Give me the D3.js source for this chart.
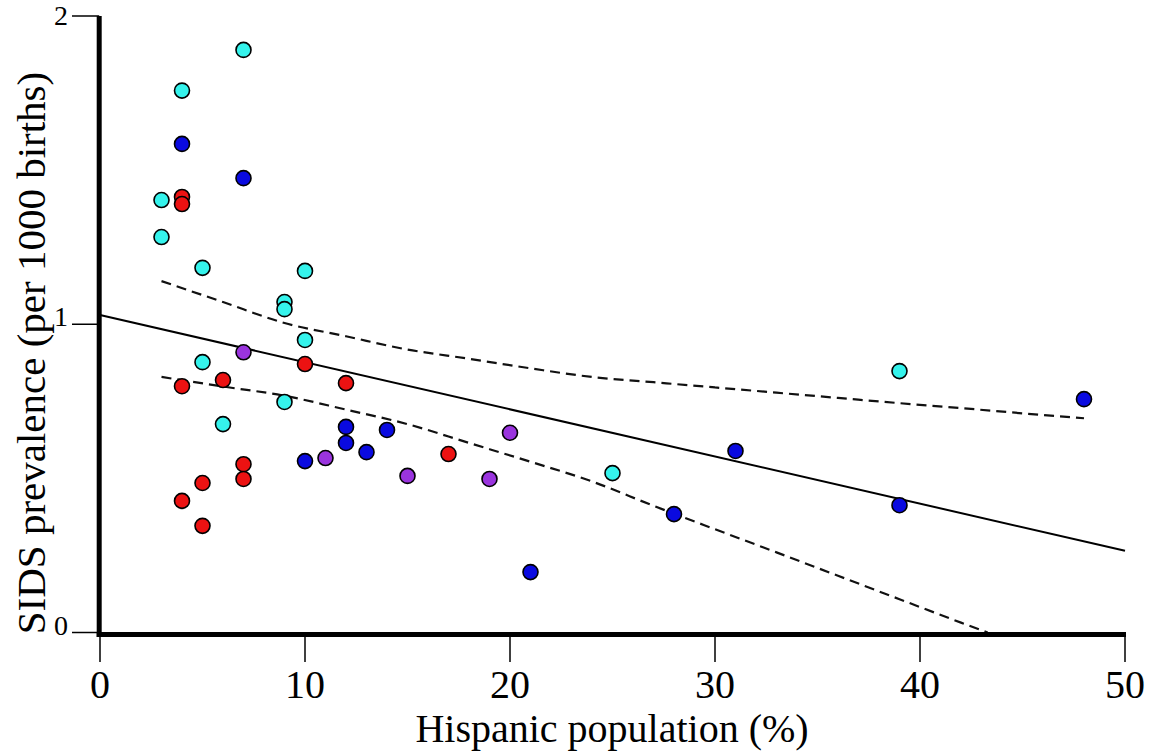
<!DOCTYPE html>
<html>
<head>
<meta charset="utf-8">
<script src="https://cdn.jsdelivr.net/npm/d3@7"></script>
<style>
  html, body { margin: 0; padding: 0; background: #fff; }
  svg { display: block; }
  text { font-family: "Liberation Serif", "Times New Roman", serif; fill: #000; }
</style>
</head>
<body>
<script>
// ---- data ----
const cyanX = [7, 4, 3, 3, 5, 10, 9, 9, 10, 5, 9, 6, 25, 39];
const cyanY = [1.89, 1.758, 1.403, 1.283, 1.183, 1.173, 1.072, 1.049, 0.949, 0.877, 0.748, 0.676, 0.517, 0.848];

const blueX = [4, 7, 12, 12, 14, 13, 10, 21, 28, 31, 39, 48];
const blueY = [1.585, 1.474, 0.667, 0.615, 0.657, 0.585, 0.556, 0.196, 0.384, 0.589, 0.413, 0.757];

const redX = [4, 4, 4, 6, 10, 12, 7, 7, 5, 4, 5, 17];
const redY = [1.413, 1.39, 0.799, 0.819, 0.871, 0.809, 0.546, 0.498, 0.485, 0.427, 0.346, 0.579];

const purpleX = [7, 11, 15, 19, 20];
const purpleY = [0.909, 0.566, 0.508, 0.498, 0.648];

const fitX = [0, 50];
const fitY = [1.03, 0.265];

const upperX = [3, 6, 9, 12, 15, 18, 21, 24, 27, 30, 33, 36, 39, 42, 45, 48];
const upperY = [1.14, 1.072, 1.004, 0.961, 0.918, 0.888, 0.857, 0.829, 0.812, 0.795, 0.778, 0.761, 0.744, 0.728, 0.711, 0.695];

const lowerX = [3, 6, 9, 12, 15, 18, 21, 24, 27, 30, 33, 36, 39, 42, 43.3];
const lowerY = [0.829, 0.798, 0.768, 0.723, 0.676, 0.615, 0.554, 0.49, 0.411, 0.335, 0.26, 0.184, 0.108, 0.032, 0];

const xTicks = [0, 10, 20, 30, 40, 50];
const yTicks = [0, 1, 2];
const xTitle = "Hispanic population (%)";
const yTitle = "SIDS prevalence (per 1000 births)";

const groups = [
  { xs: cyanX, ys: cyanY, color: "#35f3ec" },
  { xs: blueX, ys: blueY, color: "#0a0ae0" },
  { xs: redX, ys: redY, color: "#ec1212" },
  { xs: purpleX, ys: purpleY, color: "#9a34de" }
];

// ---- layout ----
const W = 1156, H = 751;
const x = d3.scaleLinear().domain([0, 50]).range([100, 1125]);
const y = d3.scaleLinear().domain([0, 2]).range([632.5, 16]);

const svg = d3.select("body").append("svg").attr("width", W).attr("height", H);

// regression line & CI
const line = d3.line().x(d => x(d[0])).y(d => y(d[1]));
svg.append("path").datum(d3.zip(fitX, fitY)).attr("d", line)
  .attr("fill", "none").attr("stroke", "#000").attr("stroke-width", 2);
const curve = d3.line().x(d => x(d[0])).y(d => y(d[1])).curve(d3.curveMonotoneX);
svg.append("path").datum(d3.zip(upperX, upperY)).attr("d", curve)
  .attr("fill", "none").attr("stroke", "#111").attr("stroke-width", 2.2).attr("stroke-dasharray", "10,6");
svg.append("path").datum(d3.zip(lowerX, lowerY)).attr("d", curve)
  .attr("fill", "none").attr("stroke", "#111").attr("stroke-width", 2.2).attr("stroke-dasharray", "10,6");

// points
groups.forEach(g => {
  svg.append("g").selectAll("circle").data(d3.zip(g.xs, g.ys)).join("circle")
    .attr("cx", d => x(d[0])).attr("cy", d => y(d[1])).attr("r", 7.5)
    .attr("fill", g.color).attr("stroke", "#000").attr("stroke-width", 1.6);
});

// axes
const axisY0 = 634.5, axisX0 = 99.2;
svg.append("line").attr("x1", 96.7).attr("x2", 1126).attr("y1", axisY0).attr("y2", axisY0)
  .attr("stroke", "#000").attr("stroke-width", 5);
svg.append("line").attr("x1", axisX0).attr("x2", axisX0).attr("y1", y(2)).attr("y2", 637)
  .attr("stroke", "#000").attr("stroke-width", 5);

// x ticks
const xt = svg.append("g").selectAll("g").data(xTicks).join("g");
xt.append("line").attr("x1", d => x(d)).attr("x2", d => x(d)).attr("y1", 637).attr("y2", 662)
  .attr("stroke", "#000").attr("stroke-width", 1.5);
xt.append("text").attr("x", d => x(d)).attr("y", 698).attr("text-anchor", "middle")
  .attr("font-size", 40).text(d => d);

// y ticks
const yt = svg.append("g").selectAll("g").data(yTicks).join("g");
yt.append("line").attr("x1", 72).attr("x2", axisX0).attr("y1", d => y(d)).attr("y2", d => y(d))
  .attr("stroke", "#000").attr("stroke-width", 1.5);
yt.append("text").attr("x", 68).attr("y", d => Math.max(y(d) + 2, 25)).attr("text-anchor", "end")
  .attr("font-size", 28).text(d => d);

// titles
svg.append("text").attr("x", 612).attr("y", 742).attr("text-anchor", "middle")
  .attr("font-size", 40).text(xTitle);
svg.append("text").attr("transform", "translate(45,353) rotate(-90)").attr("text-anchor", "middle")
  .attr("font-size", 41).text(yTitle);
</script>
</body>
</html>
